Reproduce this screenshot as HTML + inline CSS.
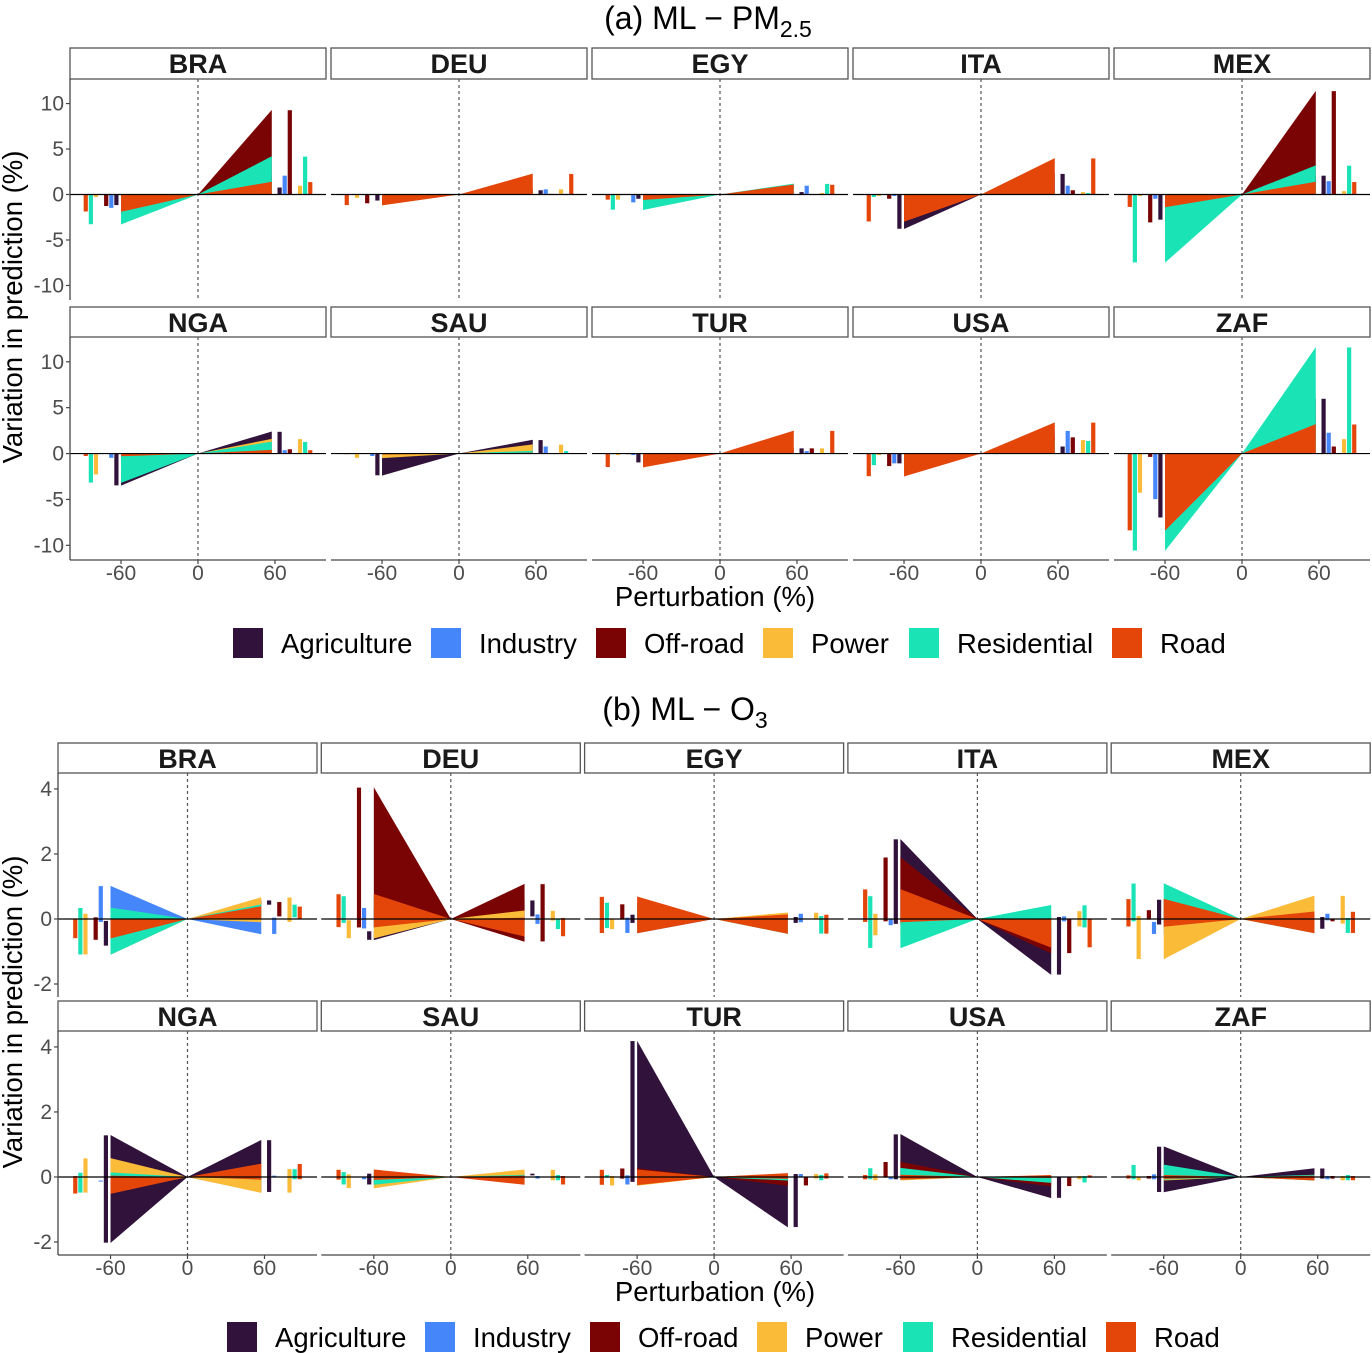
<!DOCTYPE html>
<html><head><meta charset="utf-8"><style>
html,body{margin:0;padding:0;background:#fff}
svg{display:block;font-family:"Liberation Sans",Arial,sans-serif}
</style></head><body>
<svg id="chart" xmlns="http://www.w3.org/2000/svg" width="1372" height="1353" viewBox="0 0 1372 1353">
<rect width="1372" height="1353" fill="#fff"/>
<text x="708" y="29" font-size="32" text-anchor="middle" fill="#000">(a) ML − PM<tspan font-size="23" dy="8">2.5</tspan></text>
<text x="685" y="720" font-size="32" text-anchor="middle" fill="#000">(b) ML − O<tspan font-size="23" dy="8">3</tspan></text>
<text transform="translate(22,307) rotate(-90)" font-size="27.5" text-anchor="middle">Variation in prediction (%)</text>
<text transform="translate(22,1012) rotate(-90)" font-size="27.5" text-anchor="middle">Variation in prediction (%)</text>
<text x="715" y="606" font-size="27.5" text-anchor="middle">Perturbation (%)</text>
<text x="715" y="1301" font-size="27.5" text-anchor="middle">Perturbation (%)</text>
<g id="root"></g>
</svg>
<script>
const countries = ["BRA","DEU","EGY","ITA","MEX","NGA","SAU","TUR","USA","ZAF"];
const sectors = ["Agriculture","Industry","Off-road","Power","Residential","Road"];
const sectorColors = ["#30123b","#4686fb","#7a0403","#fabb39","#1ae4b6","#e4460a"];
// (a) PM2.5 values at -60% and +60% (order: sectors)
const pmNeg = [
 [-1.2,-1.5,-1.3,-0.3,-3.3,-1.9],
 [-0.7,-0.1,-1.0,-0.4,-0.05,-1.2],
 [-0.5,-0.9,0,-0.6,-1.7,-0.6],
 [-3.8,-0.2,-0.5,-0.2,-0.3,-3.0],
 [-2.8,-0.5,-3.1,-0.2,-7.5,-1.4],
 [-3.5,-0.5,0,-2.3,-3.2,-0.3],
 [-2.4,-0.3,0,-0.5,0,-0.1],
 [-1.0,-0.2,-0.1,-0.2,-0.1,-1.5],
 [-1.1,-1.1,-1.4,-0.2,-1.3,-2.5],
 [-7.0,-5.0,-0.4,-4.3,-10.6,-8.4]];
const pmPos = [
 [0.8,2.1,9.3,1.0,4.2,1.4],
 [0.5,0.6,0.1,0.6,0.1,2.3],
 [0.3,1.0,0,0.2,1.2,1.1],
 [2.3,1.0,0.5,0.3,0.2,4.0],
 [2.1,1.5,11.4,0.4,3.2,1.4],
 [2.4,0.4,0.5,1.6,1.3,0.4],
 [1.5,0.8,0,1.0,0.3,0.1],
 [0.6,0.3,0.6,0.6,0.1,2.5],
 [0.8,2.5,1.8,1.5,1.4,3.4],
 [6.0,2.3,0.8,1.6,11.6,3.2]];
// (b) O3 ranges [lo,hi] at -60% and +60%
const o3Neg = [
 [[-0.83,-0.05],[-0.1,1.02],[-0.65,0.06],[-1.1,0.17],[-1.1,0.35],[-0.6,0]],
 [[-0.65,-0.37],[-0.3,0.35],[-0.27,4.05],[-0.6,-0.03],[-0.13,0.71],[-0.26,0.77]],
 [[-0.13,0.14],[-0.44,0.05],[-0.03,0.46],[-0.32,0.02],[-0.29,0.51],[-0.44,0.69]],
 [[-0.16,2.46],[-0.2,0],[-0.08,1.9],[-0.51,0.17],[-0.9,0.71],[-0.1,0.92]],
 [[-0.18,0.6],[-0.47,-0.08],[-0.03,0.28],[-1.24,0.1],[-0.08,1.1],[-0.24,0.62]],
 [[-2.03,1.29],[-0.15,-0.1],[0,0],[-0.49,0.58],[-0.49,0.14],[-0.52,0.04]],
 [[-0.24,0.11],[-0.08,0],[0,0],[-0.35,0.09],[-0.24,0.16],[-0.09,0.23]],
 [[-0.16,4.19],[-0.24,0.06],[-0.06,0.27],[-0.27,0.04],[-0.03,0.07],[-0.25,0.23]],
 [[-0.08,1.32],[-0.08,0],[-0.03,0.47],[-0.11,0.09],[-0.08,0.28],[-0.08,0.07]],
 [[-0.47,0.94],[-0.08,0.09],[-0.06,0.04],[-0.11,0],[-0.08,0.38],[-0.06,0.06]]];
const o3Pos = [
 [[0.43,0.58],[-0.47,0.05],[0.07,0.53],[-0.1,0.67],[0.04,0.45],[0,0.39]],
 [[0.07,0.58],[-0.16,0.15],[-0.7,1.08],[-0.06,0.26],[-0.32,0],[-0.54,0.04]],
 [[-0.13,0.07],[-0.11,0.17],[0,0],[-0.03,0.2],[-0.46,0.1],[-0.46,0.14]],
 [[-1.72,0.07],[-0.08,0.09],[-1.06,0],[-0.24,0.25],[-0.27,0.43],[-0.88,0.02]],
 [[-0.31,0.07],[-0.05,0.17],[-0.08,0.02],[-0.15,0.72],[-0.44,0.04],[-0.44,0.23]],
 [[-0.47,1.14],[0,0.05],[0,0],[-0.49,0.25],[-0.08,0.25],[-0.08,0.41]],
 [[0.04,0.11],[-0.06,0.04],[0,0],[-0.11,0.23],[-0.11,0.07],[-0.24,0.04]],
 [[-1.55,0.1],[-0.01,0.1],[-0.27,0],[-0.06,0.1],[-0.11,0.07],[-0.06,0.12]],
 [[-0.65,0],[-0.03,0.02],[-0.29,0],[-0.08,0.04],[-0.18,0.04],[-0.03,0.06]],
 [[-0.06,0.27],[-0.08,0.04],[-0.06,0.04],[-0.11,0.04],[-0.11,0.07],[-0.11,0.04]]];
const pmTicks = [10,5,0,-5,-10];
const o3Ticks = [4,2,0,-2];
const xTicks = [-60,0,60];
const barSlots = [0,1,2,4,5,6];

const NS="http://www.w3.org/2000/svg";
const root=document.getElementById('root');
function mk(tag,attrs,parent){const e=document.createElementNS(NS,tag);for(const k in attrs)e.setAttribute(k,attrs[k]);(parent||root).appendChild(e);return e;}

function drawFacet(cfg){
  const {ci,left,w,stripTop,plotTop,plotBot,yMin,yMax,ranges,part,ticks,row,col}=cfg;
  const cx=left+w/2, kx=1.283;
  const X=v=>cx+v*kx;
  const Y=v=>plotTop+(yMax-v)/(yMax-yMin)*(plotBot-plotTop);
  const g=mk('g',{});
  
  
  const strip=mk('rect',{x:left,y:stripTop,width:w,height:plotTop-stripTop,fill:'#fff',stroke:'#555','stroke-width':1.3},g);
  
  
  const st=mk('text',{x:cx,y:stripTop+25,'font-size':27,'font-weight':'bold','text-anchor':'middle',fill:'#1a1a1a'},g);
  st.textContent=countries[ci];
  
  
  const dl=mk('line',{x1:X(0),x2:X(0),y1:plotTop,y2:plotBot,stroke:'#555','stroke-width':1.2,'stroke-dasharray':'3,3'},g);
  
  
  [['neg',-60],['pos',57.5]].forEach(([side,edge])=>{
    const r=ranges[side];
    for(let s=0;s<6;s++){
      const [lo,hi]=r[s]; if(hi-lo<=0)continue;
      const p=mk('polygon',{points:`${X(0)},${Y(0)} ${X(edge)},${Y(hi)} ${X(edge)},${Y(lo)}`,fill:sectorColors[s]},g);
      
      
    }
  });
  [['neg',-1],['pos',1]].forEach(([side,sgn])=>{
    const r=ranges[side];
    for(let s=0;s<6;s++){
      const [lo,hi]=r[s]; if(hi-lo<=0)continue;
      const xc=sgn*(63.6+3.98*barSlots[s]);
      const b=mk('rect',{x:X(xc)-2.4,y:Y(hi),width:4.8,height:Math.max(0.8,Y(lo)-Y(hi)),fill:sectorColors[s],stroke:'#fff','stroke-width':0.6},g);
      
      
    }
  });
  const zl=mk('line',{x1:left,x2:left+w,y1:Y(0),y2:Y(0),stroke:'#000','stroke-width':1.2},g);
  
  
  if(col===0){
    const ya=mk('line',{x1:left,x2:left,y1:plotTop,y2:plotBot,stroke:'#444','stroke-width':1.3},g);
    
    
    ticks.forEach(t=>{
      mk('line',{x1:left-4,x2:left,y1:Y(t),y2:Y(t),stroke:'#444','stroke-width':1.2},g);
      const tt=mk('text',{x:left-6,y:Y(t)+7,'font-size':21,'text-anchor':'end',fill:'#4d4d4d'},g);
      tt.textContent=t;
      
      
    });
  }
  if(row===1){
    const xa=mk('line',{x1:left,x2:left+w,y1:plotBot,y2:plotBot,stroke:'#444','stroke-width':1.3},g);
    
    
    xTicks.forEach(t=>{
      mk('line',{x1:X(t),x2:X(t),y1:plotBot,y2:plotBot+4,stroke:'#444','stroke-width':1.2},g);
      const tt=mk('text',{x:X(t),y:plotBot+20,'font-size':21,'text-anchor':'middle',fill:'#4d4d4d'},g);
      tt.textContent=t;
      
      
    });
  }
}
const pmRows=[[48,79,300],[307,337,560]];
const o3Rows=[[743,773,997],[1001,1031,1255]];
for(let i=0;i<10;i++){
  const row=Math.floor(i/5),col=i%5;
  const toR=v=>[Math.min(0,v),Math.max(0,v)];
  drawFacet({ci:i,left:70+col*261,w:256,stripTop:pmRows[row][0],plotTop:pmRows[row][1],plotBot:pmRows[row][2],
    yMin:-11.6,yMax:12.7,ranges:{neg:pmNeg[i].map(toR),pos:pmPos[i].map(toR)},part:'pm25',ticks:pmTicks,row,col});
  drawFacet({ci:i,left:58+col*263.3,w:259,stripTop:o3Rows[row][0],plotTop:o3Rows[row][1],plotBot:o3Rows[row][2],
    yMin:-2.4,yMax:4.49,ranges:{neg:o3Neg[i],pos:o3Pos[i]},part:'o3',ticks:o3Ticks,row,col});
}
const legX=[233,431,596,763,909,1112];
[[628,'a',0],[1322,'b',-6]].forEach(([y,p,dx])=>{
  for(let s=0;s<6;s++){
    const g=mk('g',{});
    
    
    mk('rect',{x:legX[s]+dx,y:y,width:30,height:30,fill:sectorColors[s]},g);
    const t=mk('text',{x:legX[s]+dx+48,y:y+25,'font-size':27.5,fill:'#000'},g);
    t.textContent=sectors[s];
  }
});
</script>
</body></html>
